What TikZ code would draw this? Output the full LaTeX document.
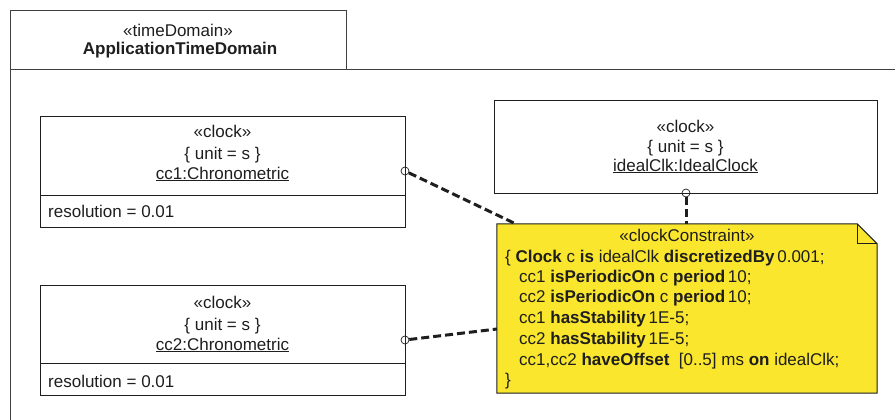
\documentclass[tikz,border=0pt]{standalone}
\usepackage{fontspec}
\setmainfont{Liberation Sans}
\usetikzlibrary{calc}
\definecolor{notefill}{RGB}{250,230,45}
\definecolor{ink}{RGB}{30,30,30}

\begin{document}
\begin{tikzpicture}[x=1pt,y=-1pt,
  box/.style={draw=ink, line width=1pt, fill=white, inner sep=0pt},
  lbl/.style={font=\fontsize{17}{20}\selectfont, text=ink, inner sep=0pt},
  dep/.style={draw=ink, line width=3pt, dash pattern=on 8pt off 4pt},
  port/.style={circle, draw=ink, line width=0.7pt, minimum size=8pt, inner sep=0pt},
  frameline/.style={draw=ink!85, line width=0.9pt},
]
\useasboundingbox (0,0) rectangle (895,420);

% time domain frame with its name tab
\draw[frameline] (10,425) -- (10,10) -- (346,10) -- (346,69);
\draw[frameline] (10,69) -- (900,69);
\node[lbl, anchor=base] (tdst) at (178,37) {«timeDomain»};
\node[lbl, anchor=base, font=\fontsize{17}{20}\selectfont\bfseries] (tdname) at (180,55) {ApplicationTimeDomain};

% clock cc1
\node[box, minimum width=365pt, minimum height=111pt] (cc1) at (222.5,171.5) {};
\draw[ink, line width=1pt] (40,195) -- (405,195);
\node[lbl, anchor=base] (cc1st) at (222.5,138) {«clock»};
\node[lbl, anchor=base] (cc1un) at (222.5,159) {\{ unit = s \}};
\node[lbl, anchor=base] (cc1nm) at (222.5,179) {\underline{cc1:Chronometric}};
\node[lbl, anchor=base west] (cc1at) at (48,217) {resolution = 0.01};

% clock cc2
\node[box, minimum width=365pt, minimum height=110pt] (cc2) at (222.5,340) {};
\draw[ink, line width=1pt] (40,363) -- (405,363);
\node[lbl, anchor=base] (cc2st) at (222.5,308) {«clock»};
\node[lbl, anchor=base] (cc2un) at (222.5,330) {\{ unit = s \}};
\node[lbl, anchor=base] (cc2nm) at (222.5,350) {\underline{cc2:Chronometric}};
\node[lbl, anchor=base west] (cc2at) at (48,387) {resolution = 0.01};

% ideal clock
\node[box, minimum width=383pt, minimum height=92pt] (ideal) at (685.5,147) {};
\node[lbl, anchor=base] (idst) at (685.5,132) {«clock»};
\node[lbl, anchor=base] (idun) at (685.5,152) {\{ unit = s \}};
\node[lbl, anchor=base] (idnm) at (685.5,171) {\underline{idealClk:IdealClock}};

% clock constraint note with folded corner
\node[minimum width=380pt, minimum height=169pt, inner sep=0pt] (note) at (687,308.5) {};
\draw[ink, line width=1pt, fill=notefill]
  (note.north west) -- ($(note.north east)+(-20,0)$) -- ($(note.north east)+(0,20)$)
  -- (note.south east) -- (note.south west) -- cycle;
\draw[ink, line width=0.8pt] ($(note.north east)+(-20,0)$) -- ($(note.north east)+(-20,20)$) -- ($(note.north east)+(0,20)$);
\node[lbl, anchor=base] (nl0) at (687,241) {«clockConstraint»};
\node[lbl, anchor=base west] (nl1) at (505,262) {\{ \textbf{Clock} c \textbf{is} idealClk \textbf{discretizedBy}\,0.001;};
\node[lbl, anchor=base west] (nl2) at (519,282) {cc1 \textbf{isPeriodicOn} c \textbf{period}\,10;};
\node[lbl, anchor=base west] (nl3) at (519,302) {cc2 \textbf{isPeriodicOn} c \textbf{period}\,10;};
\node[lbl, anchor=base west] (nl4) at (519,323) {cc1 \textbf{hasStability}\,1E-5;};
\node[lbl, anchor=base west] (nl5) at (519,344) {cc2 \textbf{hasStability}\,1E-5;};
\node[lbl, anchor=base west] (nl6) at (519,365) {cc1,cc2 \textbf{haveOffset} \ [0..5] ms \textbf{on} idealClk;};
\node[lbl, anchor=base west] (nl7) at (505,385) {\}};

% constraint attachments
\node[port] (p1) at (405,171) {};
\node[port] (p2) at (405,340) {};
\node[port] (p3) at (686,193) {};
\coordinate (e1) at (516,224);
\coordinate (e2) at (497,329);
\coordinate (e3) at (686,224);
\draw[dep] (p1) -- (e1);
\draw[dep] (p2) -- (e2);
\draw[dep] (p3) -- (e3);
\end{tikzpicture}
\end{document}
